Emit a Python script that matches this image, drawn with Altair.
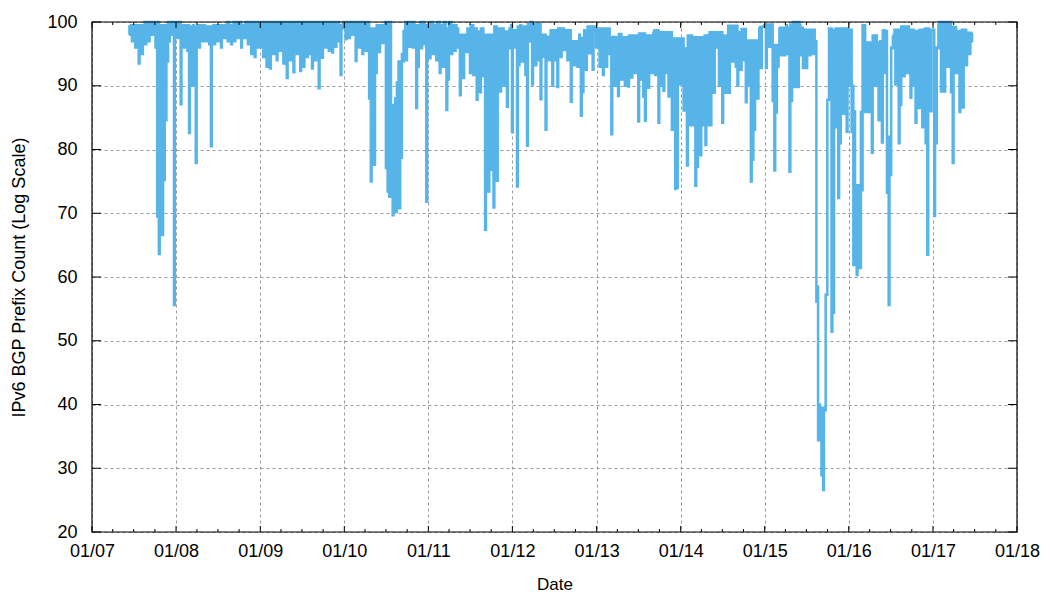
import altair as alt
import pandas as pd

# ---- data ----
# lo_YYYY: sampled values (weekly-ish); hi_YYYY: top edge of the band between samples
lo_2007 = [98, 99, 97, 99.5, 96, 99, 93.5, 97, 95, 98, 96.5, 100, 97, 100, 98, 100, 96,
           69.5, 63.6, 67, 66.6, 75.2, 84.6, 93.8, 97, 99.5, 98, 55.6]
hi_2007 = [99.3, 99.5, 99, 99.5, 99.3, 99.5, 99, 99.5, 99.5, 100, 99.5, 100, 100, 100, 100,
           100, 100, 100, 99.5, 93.8, 99.5, 99.5, 99.5, 100, 100, 100, 100, 99.5]
lo_2008 = [99, 97.5, 99.5, 87.1, 98, 96, 99, 95.5, 82.6, 97.5, 90, 99, 77.9, 98, 96, 99, 97,
           99.5, 97, 98.5, 96.5, 80.5, 98, 96.5, 99, 97, 98.5, 96, 99, 97.5, 99.5, 97, 98, 96.5,
           99, 97, 100, 97.5, 100, 96, 99, 97.5, 100, 96.5, 99.5, 95, 100, 94.5, 99, 96]
hi_2008 = [100, 99.5, 100, 99.5, 99.5, 99.5, 99.5, 99.5, 99.3, 99.3, 99.5, 99.3, 99.3, 99.5,
           99.5, 99.5, 99.3, 99.3, 99.3, 99.3, 99.3, 99.3, 99.5, 99.5, 99.5, 99.5, 99.3, 99.5,
           99.5, 99.5, 100, 100, 99.5, 99.5, 100, 100, 100, 100, 100, 99.5, 99.5, 100, 100, 100,
           100, 100, 100, 100, 100, 100]
lo_2009 = [96, 99.5, 94.5, 100, 93, 99, 92.7, 100, 95, 99.5, 94, 100, 95.5, 99.5, 93.5, 100,
           91.2, 99, 94, 100, 92.1, 99.5, 95, 100, 92.3, 99, 93, 100, 94.5, 99.5, 95, 92.7, 100,
           94, 99.5, 89.6, 100, 94.4, 99.5, 96, 100, 95.5, 99, 95.2, 100, 96.1, 99.5, 97, 91.7, 99]
hi_2009 = [100, 100, 100, 100, 99.8, 100, 100, 100, 100, 100, 100, 100, 99.8, 100, 100, 100,
           100, 100, 100, 100, 100, 100, 99.8, 100, 100, 100, 100, 100, 100, 100, 100, 100, 100,
           99.8, 100, 100, 100, 100, 100, 100, 100, 100, 100, 100, 100, 100, 100, 99.5, 99.5, 100]
lo_2010 = [99, 97.3, 100, 97.5, 99.5, 98, 100, 93.9, 99.5, 96, 100, 95, 99, 95.5, 99.5, 88, 75,
           83.7, 77.6, 92, 99, 95.3, 99.5, 96.7, 99.5, 77.1, 73.4, 72.6, 86.7, 69.7, 83, 70.2,
           90.5, 70.8, 78.7, 93.8, 98.6, 94, 99.5, 96.1, 100, 96, 99.5, 86.5, 93, 99.5, 95.9,
           99.5, 96.5, 71.8]
hi_2010 = [100, 100, 100, 100, 100, 100, 100, 100, 100, 100, 100, 100, 100, 100, 100, 99, 99,
           99, 99, 99.5, 99.5, 99.5, 99.5, 99.5, 100, 100, 100, 100, 87, 86.7, 88, 90.5, 93.8,
           93.8, 95, 98.6, 100, 100, 100, 100, 100, 100, 99.5, 99.5, 99.5, 100, 100, 100, 99.5,
           99.5]
lo_2011 = [99.5, 94.3, 100, 95, 99, 94, 100, 92, 99.5, 93, 100, 86.2, 91, 100, 95, 99.5, 95.5,
           99, 96, 88.5, 97.7, 91.2, 98, 95.3, 99, 92, 99.5, 91.7, 99, 87.8, 96.5, 89, 99, 91.5,
           67.4, 83.8, 73.4, 98, 76.8, 70.9, 99.3, 75.1, 97, 89.1, 99, 90, 98.5, 86.7, 95.9, 99]
hi_2011 = [100, 99.5, 100, 99.5, 99.5, 100, 100, 99.5, 99.5, 100, 99, 98.7, 100, 100, 99.5,
           99.5, 99.5, 99, 98, 97.7, 98, 98, 98, 99, 99, 99.5, 99.5, 99, 99, 98.5, 98.5, 99, 99,
           98, 98, 98, 98, 98, 97, 99.3, 99.3, 97.5, 99, 99, 99, 98.5, 98.5, 96, 99, 99.5]
lo_2012 = [82.7, 98.7, 96, 74.2, 93.2, 99.5, 93.8, 99, 91.7, 80.6, 97, 100, 90.2, 99.5, 93.2,
           99, 94, 87.9, 98, 94.5, 83.1, 97.7, 94, 98.7, 90, 98.5, 94, 89.8, 99, 94.5, 99, 95.6,
           98.7, 94, 97.5, 87.5, 97, 93.2, 97, 93, 98, 85.3, 89, 98.7, 92.5, 99.3, 95.1, 99,
           92.5, 98.5]
hi_2012 = [98.7, 98.7, 98.7, 99.3, 99.3, 99.3, 99.3, 99.3, 99.3, 99.7, 99.7, 100, 99.7, 99.7,
           99.7, 99.7, 99.7, 98, 98, 98, 97.7, 97.7, 97.7, 98.7, 98.7, 98.7, 98.7, 99, 99, 99,
           99, 98.7, 98.7, 98.7, 98.7, 97, 97, 97, 97, 97, 97, 97.5, 97.5, 98.7, 98.7, 98.7,
           99.3, 99.3, 99.3, 99.3]
lo_2013 = [96, 99, 93, 98.7, 91.7, 98, 93, 98.5, 95, 82.4, 97.7, 90, 97, 88.4, 97.5, 91, 97,
           90, 97.5, 89.9, 97.5, 91.3, 97.5, 92, 97.5, 84.4, 91, 98, 88.3, 84.5, 97.5, 89.7,
           97.5, 92, 98.3, 91.7, 97, 84.2, 90, 98, 89.2, 97.5, 92, 88.3, 98, 83.1, 97, 73.8, 74,
           96.5]
hi_2013 = [99, 99, 99, 99, 99, 99, 99, 99, 97.6, 97.6, 97.6, 97.6, 97.6, 98.1, 98.1, 97.6,
           97.6, 97.6, 97.6, 97.9, 97.9, 97.9, 97.9, 97.9, 97.9, 98.2, 98.2, 98.2, 98.2, 97.9,
           97.9, 97.9, 97.9, 97.9, 98.7, 98.7, 98.7, 98.4, 98.4, 98.4, 98.4, 98.4, 98.4, 98.4,
           98.4, 97.1, 97.4, 97.4, 97.4, 97.4]
lo_2014 = [90.2, 97, 86.1, 95.9, 77.5, 97, 83.8, 97.5, 83.8, 74.3, 77.3, 97, 79.1, 83.8, 97.5,
           80.7, 83.8, 98, 83.8, 97.5, 88.9, 96, 98, 90, 97, 84.2, 97.5, 88.9, 96, 88.9, 99,
           93.8, 98, 93, 90, 98, 92.5, 98.5, 94, 87.4, 97, 90, 75, 78.4, 83.1, 92.5, 88, 99,
           92.8, 99.3]
hi_2014 = [97.4, 97.4, 95.9, 95.9, 97.9, 97.9, 97.9, 97.6, 97.6, 97.6, 97.6, 97.6, 97.6, 97.6,
           97.9, 97.9, 97.9, 98.4, 98.4, 98.4, 98.4, 98.4, 98.4, 98.4, 98.4, 97.9, 97.9, 97.9,
           99.4, 99.4, 99.4, 99.4, 99.4, 99.4, 98.4, 98.4, 98.9, 98.9, 98.9, 97.1, 97.1, 97.1,
           97.1, 97.1, 97.1, 97.1, 97.1, 99.2, 99.2, 99.2]
lo_2015 = [99.5, 92.8, 99.5, 96.1, 99.5, 87.6, 76.7, 85.8, 93, 99, 94.8, 99, 94.8, 99.5, 95,
           76.5, 87.6, 100, 89.8, 100, 89.8, 99.5, 94.8, 92.8, 98.8, 92.8, 98.8, 94.8, 98.5, 95,
           97, 56.1, 34.4, 34.6, 28.9, 26.6, 39.1, 57.2, 87.8, 98.5, 51.4, 54.4, 98.8, 83.5,
           72.4, 81, 98.8, 85.6, 99, 82.8]
hi_2015 = [99.6, 99.6, 99.6, 99.6, 99.6, 96.4, 96.4, 96.4, 96, 99.1, 99.1, 99.1, 99.1, 99.1,
           99.1, 99.6, 99.6, 100, 100, 100, 100, 99.1, 99.1, 98.8, 98.8, 98.8, 98.8, 98.8, 98.8,
           98.8, 97, 58.5, 40, 39.5, 39.5, 39.1, 57.2, 87.8, 99, 99, 87.8, 98.8, 99, 99, 99, 99,
           99, 99, 99, 99]
lo_2016 = [90, 98.8, 82.8, 61.9, 63.5, 60.3, 74.4, 61.4, 73.6, 99.5, 85.9, 96.8, 85.9, 96,
           79.5, 97.5, 90, 96.8, 84.6, 97, 81.1, 98.7, 92, 73.2, 55.6, 76, 95.9, 98, 90.2, 98.8,
           81, 87, 99.3, 91.5, 99.3, 92, 98.8, 88.1, 98.5, 90, 84.2, 98.5, 86.5, 98.8, 83.5, 97,
           81, 63.5, 98.8, 86]
hi_2016 = [98.8, 98.8, 90, 86, 74.4, 74.4, 74.4, 85.9, 99.5, 99.5, 96.8, 96.8, 96.8, 96.8,
           97.9, 97.9, 97.9, 96.8, 96.8, 96.8, 98.6, 98.6, 98.6, 82, 82, 96, 97.7, 98.8, 98.8,
           98.8, 98.8, 99.3, 99.3, 99.3, 99.3, 99.3, 98.8, 98.8, 98.8, 98.6, 98.6, 98.6, 98.8,
           98.8, 98.8, 99, 99, 99, 98.8, 98.8]
lo_2017 = [98.8, 69.6, 81, 95.9, 100, 89.1, 100, 89.1, 99.5, 93, 99, 89, 77.9, 98.7, 92, 98.5,
           85.9, 97.5, 86.6, 98.7, 93.2, 98, 95, 97]
hi_2017 = [98.8, 81, 96, 99.6, 100, 100, 100, 100, 100, 100, 100, 99.2, 99.2, 99.2, 98.6,
           98.6, 98.6, 98.8, 98.8, 98.8, 98.3, 98.3, 98.3, 98.3]

series = [(2007, lo_2007, hi_2007), (2008, lo_2008, hi_2008), (2009, lo_2009, hi_2009),
          (2010, lo_2010, hi_2010), (2011, lo_2011, hi_2011), (2012, lo_2012, hi_2012),
          (2013, lo_2013, hi_2013), (2014, lo_2014, hi_2014), (2015, lo_2015, hi_2015),
          (2016, lo_2016, hi_2016), (2017, lo_2017, hi_2017)]

y_ticks = [20, 30, 40, 50, 60, 70, 80, 90, 100]
x_years = list(range(2007, 2019))


def stamp(yr, frac):
    d = pd.Timestamp(f"{yr}-01-01") + pd.Timedelta(days=frac * 365.25)
    return d.strftime("%Y-%m-%dT%H:%M:%SZ")


rows = []
for yr, lo, hi in series:
    if yr == 2007:
        start, step = 0.44, 0.02
    elif yr == 2017:
        start, step = 0.0, 0.02
    else:
        start, step = 0.0, 1.0 / len(lo)
    for i, (l, h) in enumerate(zip(lo, hi)):
        t = start + i * step
        rows.append({"date": stamp(yr, t), "value": l})
        rows.append({"date": stamp(yr, t + step / 2), "value": h})
df = pd.DataFrame(rows)

W, H = 925, 510
FONT = "Liberation Sans"

xscale = alt.Scale(type="utc",
                   domain=[alt.DateTime(year=2007, month=1, date=1, utc=True),
                           alt.DateTime(year=2018, month=1, date=1, utc=True)])
yscale = alt.Scale(domain=[20, 100], nice=False, zero=False)

xaxis = alt.Axis(values=[alt.DateTime(year=y, month=1, date=1, utc=True) for y in x_years],
                 format="%m/%y", grid=True, gridDash=[3, 3], gridColor="#9a9a9a",
                 gridWidth=1, domain=False, ticks=False, tickSize=0, labelPadding=19,
                 labelBaseline="middle", labelFlush=False, labelOverlap=False,
                 title="Date", titleX=W / 2, titleY=52, titleBaseline="middle",
                 titleAlign="center", titleFontSize=17)
yaxis = alt.Axis(values=y_ticks, grid=True, gridDash=[3, 3], gridColor="#9a9a9a",
                 gridWidth=1, domain=False, ticks=False, tickSize=0, labelPadding=15,
                 title="IPv6 BGP Prefix Count (Log Scale)", titleX=-73, titleY=H / 2,
                 titleAngle=270, titleBaseline="middle", titleAlign="center",
                 titleFontSize=18)

line = alt.Chart(df).mark_line(color="#56B4E9", strokeWidth=2.5, interpolate="step",
                               strokeJoin="miter", strokeCap="butt").encode(
    x=alt.X("date:T", scale=xscale, axis=xaxis),
    y=alt.Y("value:Q", scale=yscale, axis=yaxis),
)

# inward ticks (gnuplot style)
maj_df = pd.DataFrame({"date": [f"{y}-01-01" for y in x_years]})
min_df = pd.DataFrame({"date": [f"{y}-{m:02d}-01" for y in range(2007, 2018) for m in (4, 7, 10)]})
yt_df = pd.DataFrame({"value": y_ticks})


def xticks(data, length):
    bottom = alt.Chart(data).mark_rule(color="black", strokeWidth=1).encode(
        x=alt.X("date:T", scale=xscale, axis=xaxis),
        y=alt.value(H), y2=alt.value(H - length))
    top = alt.Chart(data).mark_rule(color="black", strokeWidth=1).encode(
        x=alt.X("date:T", scale=xscale, axis=xaxis),
        y=alt.value(0), y2=alt.value(length))
    return bottom + top


yl = alt.Chart(yt_df).mark_rule(color="black", strokeWidth=1).encode(
    y=alt.Y("value:Q", scale=yscale, axis=yaxis), x=alt.value(0), x2=alt.value(9))
yr_ = alt.Chart(yt_df).mark_rule(color="black", strokeWidth=1).encode(
    y=alt.Y("value:Q", scale=yscale, axis=yaxis), x=alt.value(W), x2=alt.value(W - 9))

frame = alt.Chart(pd.DataFrame({"a": [0]})).mark_rect(
    filled=False, stroke="black", strokeWidth=1.2).encode(
    x=alt.value(0), x2=alt.value(W), y=alt.value(0), y2=alt.value(H))

chart = alt.layer(line, xticks(maj_df, 6), xticks(min_df, 3), yl, yr_, frame).properties(
    width=W, height=H,
    autosize=alt.AutoSizeParams(type="none"),
    padding={"left": 84, "top": 14, "right": 25, "bottom": 60},
    background="white",
).configure_view(stroke=None).configure_axis(
    labelFont=FONT, labelFontSize=18, labelColor="black",
    titleFont=FONT, titleColor="black", titleFontWeight="normal",
)

chart.save("out.html", embed_options={"renderer": "svg", "actions": False})
